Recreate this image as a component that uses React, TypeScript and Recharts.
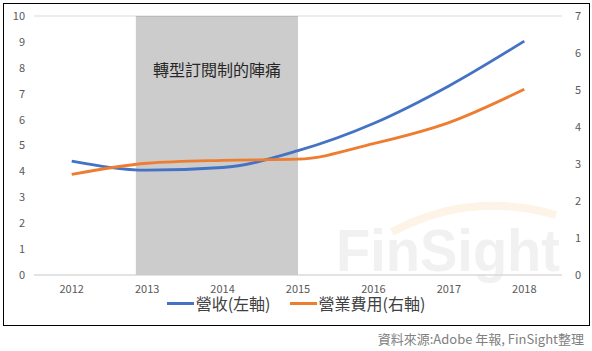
import React from "react";
import { LineChart, Line, XAxis, YAxis, CartesianGrid, ReferenceArea, Legend } from "recharts";

const years = [2012, 2013, 2014, 2015, 2016, 2017, 2018];
const revenue = [4.40, 4.05, 4.15, 4.80, 5.85, 7.30, 9.03];
const opex = [2.72, 3.02, 3.10, 3.13, 3.55, 4.12, 5.02];
const leftTicks = [0, 1, 2, 3, 4, 5, 6, 7, 8, 9, 10];
const rightTicks = [0, 1, 2, 3, 4, 5, 6, 7];
const shadeStart = 2012.85;
const shadeEnd = 2015;
const shadeLabel = "轉型訂閱制的陣痛";
const revenueName = "營收(左軸)";
const opexName = "營業費用(右軸)";
const sourceText = "資料來源:Adobe 年報, FinSight整理";

const data = years.map((y, i) => ({ year: y, revenue: revenue[i], opex: opex[i] }));

const FONT = "'Noto Sans CJK TC', 'Noto Sans', sans-serif";

const LegendContent = () => (
  <div style={{ display: "flex", justifyContent: "center", alignItems: "center", fontFamily: FONT, fontSize: 16, color: "#404040" }}>
    <span style={{ display: "inline-block", width: 27, height: 3, background: "#4472C4", marginRight: 2 }} />
    <span style={{ marginRight: 19 }}>{revenueName}</span>
    <span style={{ display: "inline-block", width: 27, height: 3, background: "#ED7D31", marginRight: 2 }} />
    <span>{opexName}</span>
  </div>
);

export default function App() {
  return (
    <div style={{ position: "absolute", left: 0, top: 0, width: 592, height: 351, background: "#fff", fontFamily: FONT }}>
      <svg width={592} height={351} style={{ position: "absolute", left: 0, top: 0 }}>
        <path d="M 392 232 Q 470 190 556 215" stroke="#fdf3e6" strokeWidth={8} fill="none" />
        <text x={336} y={271} fontSize={60} fontWeight="bold" fill="#f1f1f1" fontFamily="'Liberation Sans', Arial, sans-serif" textLength={224} lengthAdjust="spacingAndGlyphs">FinSight</text>
      </svg>
      <div style={{ position: "absolute", left: 3, top: 3, width: 585, height: 321, border: "1px solid #000" }} />
      <div style={{ position: "absolute", left: 0, top: 0 }}>
        <LineChart width={592} height={351} data={data} margin={{ top: 16, right: 0, bottom: 27, left: 0 }}>
          <CartesianGrid vertical={false} stroke="#d9d9d9" />
          <ReferenceArea
            yAxisId="left"
            x1={shadeStart}
            x2={shadeEnd}
            y1={0}
            y2={10}
            fill="#000"
            fillOpacity={0.2}
            stroke="none"
            label={{ value: shadeLabel, position: "insideTop", offset: 49, fontSize: 16, fill: "#262626", fontFamily: FONT }}
          />
          <XAxis
            dataKey="year"
            type="number"
            domain={[2011.5, 2018.5]}
            ticks={years}
            height={25}
            tickSize={0}
            tickMargin={10}
            axisLine={{ stroke: "#d9d9d9" }}
            tick={{ fontSize: 11, fill: "#595959", fontFamily: FONT }}
          />
          <YAxis
            yAxisId="left"
            orientation="left"
            domain={[0, 10]}
            ticks={leftTicks}
            width={34}
            tickSize={0}
            tickMargin={9}
            axisLine={false}
            tick={{ fontSize: 11, fill: "#595959", fontFamily: FONT }}
          />
          <YAxis
            yAxisId="right"
            orientation="right"
            domain={[0, 7]}
            ticks={rightTicks}
            width={30}
            tickSize={0}
            tickMargin={13}
            axisLine={false}
            tick={{ fontSize: 11, fill: "#595959", fontFamily: FONT }}
          />
          <Line yAxisId="left" dataKey="revenue" name={revenueName} type="monotone" stroke="#4472C4" strokeWidth={2.8} dot={false} isAnimationActive={false} />
          <Line yAxisId="right" dataKey="opex" name={opexName} type="monotone" stroke="#ED7D31" strokeWidth={2.8} dot={false} isAnimationActive={false} />
          <Legend content={<LegendContent />} wrapperStyle={{ position: "absolute", left: 0, top: 291, width: 592 }} />
        </LineChart>
      </div>
      <div style={{ position: "absolute", right: 8, top: 329, fontSize: 13, color: "#808080", fontFamily: FONT, whiteSpace: "nowrap" }}>{sourceText}</div>
    </div>
  );
}
